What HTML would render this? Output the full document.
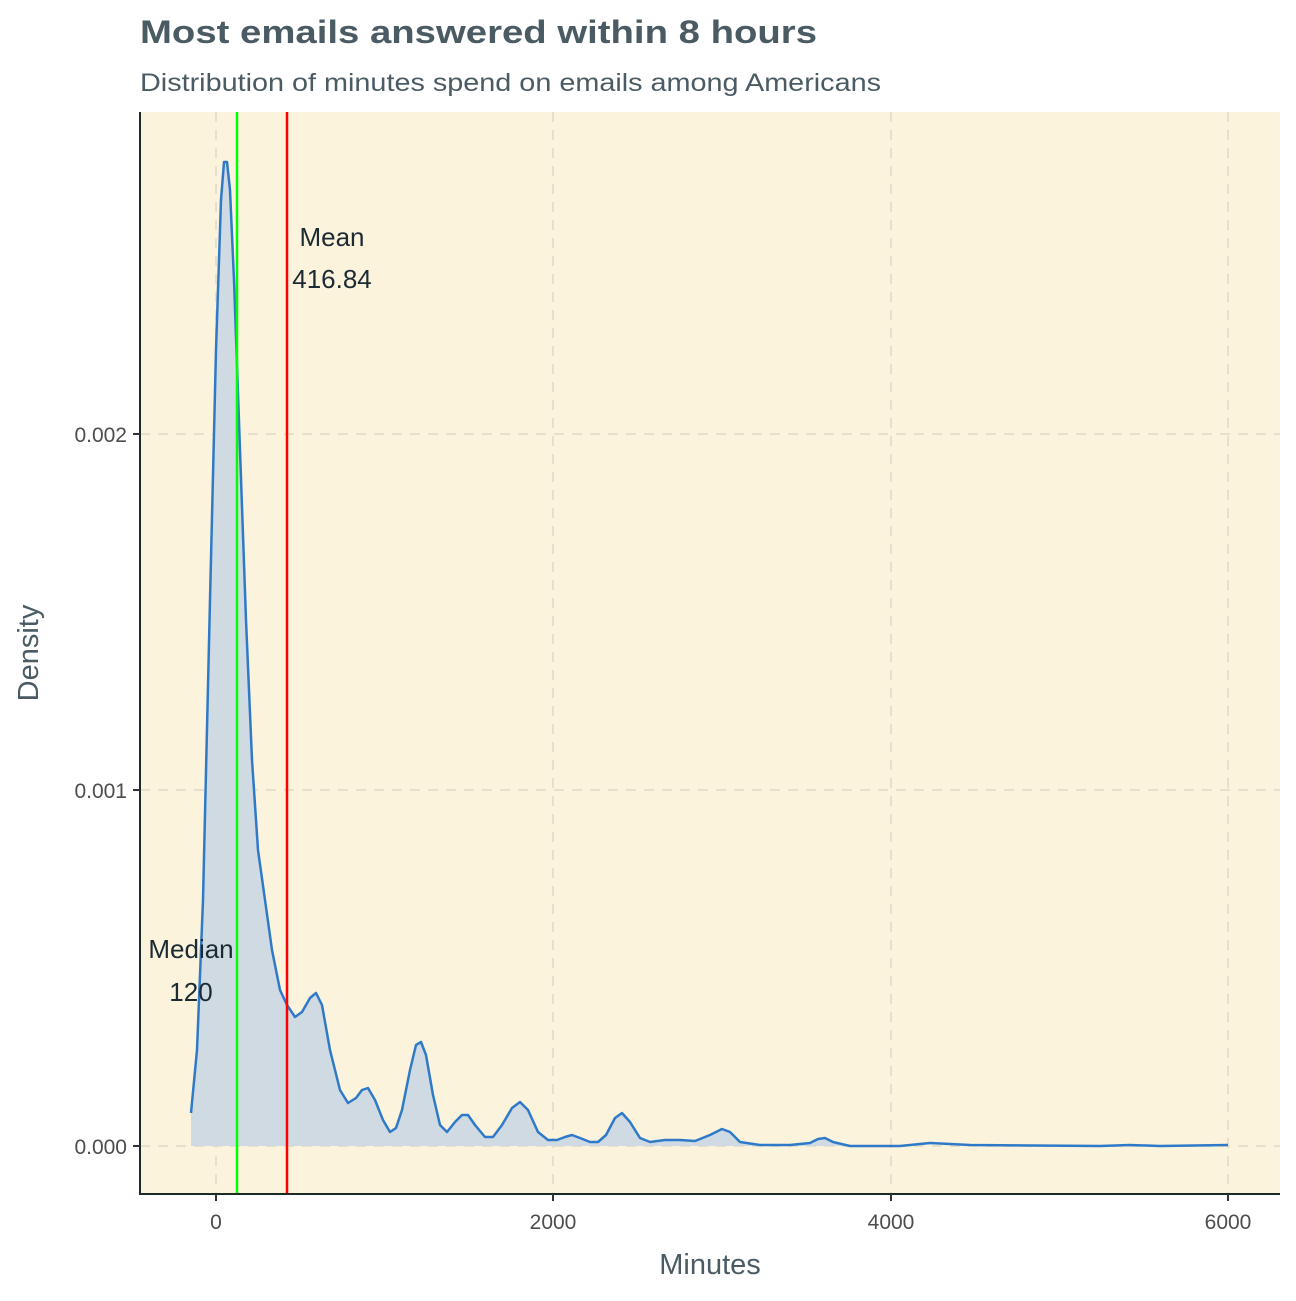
<!DOCTYPE html>
<html><head><meta charset="utf-8"><style>
body{margin:0;background:#fff;}
svg text{font-family:"Liberation Sans",Arial,sans-serif;}
</style></head><body>
<svg width="1296" height="1296" viewBox="0 0 1296 1296" xmlns="http://www.w3.org/2000/svg">
<rect width="1296" height="1296" fill="#fff"/>
<text x="140" y="43" font-size="32" font-weight="bold" fill="#4b5b64" textLength="677" lengthAdjust="spacingAndGlyphs">Most emails answered within 8 hours</text>
<text x="140" y="91" font-size="25" fill="#4b5b64" textLength="741" lengthAdjust="spacingAndGlyphs">Distribution of minutes spend on emails among Americans</text>
<rect x="140" y="112" width="1140" height="1082" fill="#fcf3dd"/>
<g stroke="#e6dfcd" stroke-width="2" stroke-dasharray="10,8" fill="none">
<line x1="140" y1="1146" x2="1280" y2="1146"/>
<line x1="140" y1="790" x2="1280" y2="790"/>
<line x1="140" y1="434" x2="1280" y2="434"/>
<line x1="216" y1="112" x2="216" y2="1194"/>
<line x1="553" y1="112" x2="553" y2="1194"/>
<line x1="891" y1="112" x2="891" y2="1194"/>
<line x1="1228" y1="112" x2="1228" y2="1194"/>
</g>
<path id="c" d="M191,1113 L197,1050 L203,900 L210,600 L216,350 L221,200 L224,162 L227,162 L230,190 L234,280 L240,450 L246,620 L252,760 L258,850 L265,900 L272,950 L280,990 L287,1005 L295,1017 L302,1012 L310,998 L316,993 L322,1005 L330,1050 L340,1090 L348,1103 L356,1098 L362,1090 L368,1088 L375,1100 L383,1120 L390,1132 L396,1128 L402,1110 L410,1070 L416,1045 L421,1042 L426,1055 L433,1095 L440,1125 L447,1132 L455,1122 L462,1115 L468,1115 L475,1125 L485,1137 L493,1137 L502,1125 L512,1108 L520,1102 L528,1110 L538,1132 L548,1140 L557,1140 L565,1137 L572,1135 L580,1138 L590,1142 L598,1142 L606,1135 L615,1118 L622,1113 L630,1122 L640,1138 L650,1142 L665,1140 L680,1140 L695,1141 L710,1135 L722,1129 L730,1132 L740,1142 L760,1145 L790,1145 L810,1143 L818,1139 L825,1138 L833,1142 L850,1146 L900,1146 L930,1143 L950,1144 L970,1145 L1100,1146 L1130,1145 L1160,1146 L1228,1145" fill="none"/>
<path d="M191,1146 L191,1113 L197,1050 L203,900 L210,600 L216,350 L221,200 L224,162 L227,162 L230,190 L234,280 L240,450 L246,620 L252,760 L258,850 L265,900 L272,950 L280,990 L287,1005 L295,1017 L302,1012 L310,998 L316,993 L322,1005 L330,1050 L340,1090 L348,1103 L356,1098 L362,1090 L368,1088 L375,1100 L383,1120 L390,1132 L396,1128 L402,1110 L410,1070 L416,1045 L421,1042 L426,1055 L433,1095 L440,1125 L447,1132 L455,1122 L462,1115 L468,1115 L475,1125 L485,1137 L493,1137 L502,1125 L512,1108 L520,1102 L528,1110 L538,1132 L548,1140 L557,1140 L565,1137 L572,1135 L580,1138 L590,1142 L598,1142 L606,1135 L615,1118 L622,1113 L630,1122 L640,1138 L650,1142 L665,1140 L680,1140 L695,1141 L710,1135 L722,1129 L730,1132 L740,1142 L760,1145 L790,1145 L810,1143 L818,1139 L825,1138 L833,1142 L850,1146 L1228,1146 Z" fill="#cfdae2"/>
<use href="#c" stroke="#2f7ac8" stroke-width="2.5" stroke-linejoin="round"/>
<line x1="237" y1="112" x2="237" y2="1194" stroke="#00ff00" stroke-width="2.5"/>
<line x1="287" y1="112" x2="287" y2="1194" stroke="#ff0000" stroke-width="2.5"/>
<g font-size="26" fill="#1c2b33" text-anchor="middle">
<text x="332" y="246">Mean</text>
<text x="332" y="288">416.84</text>
<text x="191" y="958">Median</text>
<text x="191" y="1001">120</text>
</g>
<line x1="140" y1="112" x2="140" y2="1195" stroke="#1c2b26" stroke-width="2"/>
<line x1="139" y1="1194" x2="1280" y2="1194" stroke="#1c2b26" stroke-width="2"/>
<g stroke="#333" stroke-width="2">
<line x1="133" y1="1146" x2="140" y2="1146"/><line x1="133" y1="790" x2="140" y2="790"/><line x1="133" y1="434" x2="140" y2="434"/>
<line x1="216" y1="1194" x2="216" y2="1201"/><line x1="553" y1="1194" x2="553" y2="1201"/><line x1="891" y1="1194" x2="891" y2="1201"/><line x1="1228" y1="1194" x2="1228" y2="1201"/>
</g>
<g font-size="21" fill="#4d4d4d">
<text x="127" y="1154" text-anchor="end">0.000</text>
<text x="127" y="798" text-anchor="end">0.001</text>
<text x="127" y="442" text-anchor="end">0.002</text>
<text x="216" y="1229" text-anchor="middle">0</text>
<text x="553" y="1229" text-anchor="middle">2000</text>
<text x="891" y="1229" text-anchor="middle">4000</text>
<text x="1228" y="1229" text-anchor="middle">6000</text>
</g>
<text x="710" y="1274" font-size="29" fill="#4b5b64" text-anchor="middle">Minutes</text>
<text transform="translate(38,653) rotate(-90)" font-size="29" fill="#4b5b64" text-anchor="middle">Density</text>
</svg>
</body></html>
